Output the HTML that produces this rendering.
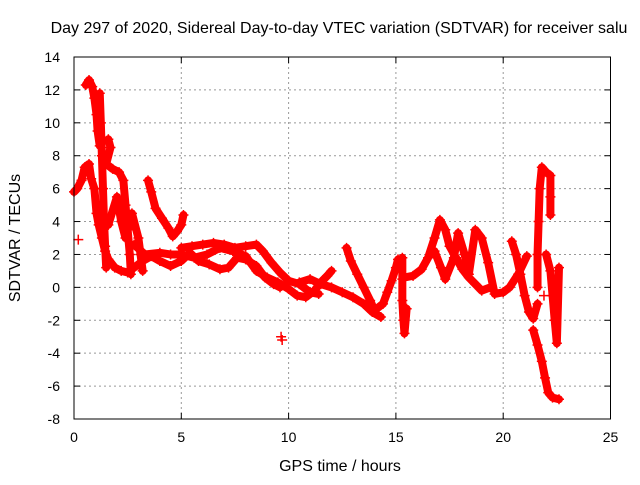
<!DOCTYPE html>
<html><head><meta charset="utf-8"><style>
body{margin:0;background:#fff;}
svg{font-family:"Liberation Sans",sans-serif;}
</style></head><body>
<svg id="chart" width="640" height="480" viewBox="0 0 640 480">
<text x="339" y="33" font-size="16" text-anchor="middle">Day 297 of 2020, Sidereal Day-to-day VTEC variation (SDTVAR) for receiver salu</text>
<text x="340" y="471" font-size="16" text-anchor="middle">GPS time / hours</text>
<text transform="translate(20,238) rotate(-90)" font-size="16" text-anchor="middle">SDTVAR / TECUs</text>
<g id="grid"></g><g id="ticks"></g><g id="marks"></g>
<rect x="74" y="57" width="536.5" height="362" fill="none" stroke="#000" stroke-width="1"/>
</svg>
<script>
const xTicks=[0,5,10,15,20,25];
const yTicks=[-8,-6,-4,-2,0,2,4,6,8,10,12,14];
const trackA=[[0.55,12.3],[0.7,12.6],[0.85,12.2],[0.95,11.5],[1.05,10.5],[1.1,9.5],[1.2,8.6]];
const trackB=[[0.0,5.8],[0.15,6],[0.35,6.5],[0.5,7.3],[0.7,7.5],[0.8,6.6],[0.95,6.0],[1.05,4.5],[1.15,3.8],[1.3,3.0],[1.45,2.2],[1.6,1.7],[1.9,1.2],[2.2,1.0],[2.5,0.9],[2.8,1.2],[3.2,1.6],[3.6,1.9],[4.0,1.6],[4.5,1.3],[5.0,1.6],[5.4,2.1],[5.8,1.6],[6.3,1.4],[6.8,1.1],[7.2,1.2],[7.6,1.8],[8.0,1.7],[8.5,1.3],[8.9,0.6],[9.3,0.2],[9.6,0.0]];
const trackC=[[1.2,11.8],[1.25,10],[1.3,8],[1.35,6],[1.4,4],[1.45,2.5],[1.5,1.2]];
const trackD=[[1.6,9.0],[1.7,8.5],[1.5,7.5],[1.8,7.2],[2.1,7.0],[2.3,6.5],[2.4,5.0],[2.5,3.5],[2.6,2.0],[2.65,0.8]];
const trackE=[[1.2,4.5],[1.6,3.8],[2.0,5.5],[2.2,4.0],[2.4,3.0],[2.7,4.5],[3.0,3.0],[3.1,2.0],[3.2,1.0]];
const trackF=[[3.45,6.5],[3.6,5.8],[3.8,4.8],[4.1,4.2],[4.4,3.6],[4.6,3.1],[4.8,3.4],[5.0,3.8],[5.1,4.4]];
const trackG=[[5.0,2.4],[5.5,2.5],[6.0,2.6],[6.5,2.7],[7.0,2.6],[7.5,2.4],[8.0,2.5],[8.5,2.6],[8.8,2.2],[9.2,1.5],[9.6,0.9],[10.0,0.4],[10.5,0.2],[11.0,-0.3],[11.4,-0.4]];
const trackH=[[2.8,2.6],[3.3,2.0],[4.0,2.1],[4.5,2.0],[5.0,2.0],[5.6,1.8],[6.2,2.0],[6.8,2.4],[7.4,2.2],[8.0,1.9],[8.5,1.0],[9.0,0.6],[9.5,0.3],[10.0,-0.1],[10.4,-0.5],[10.8,-0.6],[11.2,-0.2],[11.5,0.3],[11.8,0.7],[12.0,1.0]];
const trackI=[[10.5,0.3],[11.0,0.5],[11.5,0.2],[12.0,0.0],[12.5,-0.3],[13.0,-0.6],[13.5,-1.0],[13.9,-1.5],[14.3,-1.8]];
const trackJ=[[12.7,2.4],[12.9,1.6],[13.2,0.8],[13.5,0.0],[13.8,-0.8],[14.0,-1.4],[14.4,-1.0],[14.6,-0.3],[14.8,0.4],[15.0,1.2],[15.1,1.7]];
const trackK=[[15.3,1.8],[15.3,0.5],[15.3,-0.8],[15.35,-2.0],[15.4,-2.8],[15.5,-1.3]];
const trackL=[[15.4,0.6],[15.8,0.7],[16.2,1.1],[16.5,1.8],[16.8,3.0],[17.05,4.1],[17.3,3.5],[17.5,2.5],[17.8,1.8],[18.1,1.1],[18.4,0.6],[18.7,0.2],[19.0,-0.2],[19.4,0.0]];
const trackM=[[16.8,2.2],[17.1,1.2],[17.3,0.5],[17.7,1.8],[17.9,3.3],[18.2,2.0],[18.4,0.8],[18.7,3.5],[19.0,3.0],[19.3,1.5],[19.6,-0.4],[20.0,-0.3],[20.3,0.0],[20.7,0.8],[21.1,1.9]];
const trackN=[[20.4,2.8],[20.6,2.0],[20.8,0.8],[21.0,-0.5],[21.2,-1.5],[21.4,-1.9],[21.6,-1.0]];
const trackO=[[21.6,0.0],[21.6,2.0],[21.65,4.0],[21.7,6.0],[21.8,7.3],[22.0,7.0],[22.2,6.8],[22.2,5.5],[22.2,4.4]];
const trackP=[[22.0,2.0],[22.2,1.0],[22.3,-0.5],[22.4,-2.0],[22.5,-3.4],[22.6,1.2]];
const trackQ=[[21.4,-2.6],[21.6,-3.5],[21.8,-4.5],[21.95,-5.5],[22.1,-6.4],[22.3,-6.7],[22.6,-6.8]];
const trackR=[[0.2,2.9],[9.65,-3.0],[9.7,-3.2],[21.9,-0.5],[22.5,-0.2]];
const tracks=[trackA,trackB,trackC,trackD,trackE,trackF,trackG,trackH,trackI,trackJ,trackK,trackL,trackM,trackN,trackO,trackP,trackQ];
const X0=74,X1=610.5,Y0=419,Y1=57;
const sx=t=>X0+(t-0)/25*(X1-X0);
const sy=v=>Y0-(v+8)/22*(Y0-Y1);
const NS='http://www.w3.org/2000/svg';
const g=document.getElementById('grid'),tk=document.getElementById('ticks'),mk=document.getElementById('marks');
function mkEl(tag,attrs,parent){const e=document.createElementNS(NS,tag);for(const k in attrs)e.setAttribute(k,attrs[k]);parent.appendChild(e);return e;}
xTicks.forEach(t=>{
 const x=sx(t);
 if(t>0&&t<25){const l=mkEl('line',{x1:x,x2:x,y1:Y1,y2:Y0,stroke:'#999','stroke-dasharray':'2,3'},g);
 
 }
 mkEl('line',{x1:x,x2:x,y1:Y0,y2:Y0-6,stroke:'#000'},tk);
 mkEl('line',{x1:x,x2:x,y1:Y1,y2:Y1+6,stroke:'#000'},tk);
 const tx=mkEl('text',{x:x,y:Y0+23,'font-size':14,'text-anchor':'middle'},tk);tx.textContent=t;
 
 
});
yTicks.forEach(v=>{
 const y=sy(v);
 if(v>-8&&v<14){const l=mkEl('line',{x1:X0,x2:X1,y1:y,y2:y,stroke:'#999','stroke-dasharray':'2,3'},g);
 
 }
 mkEl('line',{x1:X0,x2:X0+6,y1:y,y2:y,stroke:'#000'},tk);
 mkEl('line',{x1:X1,x2:X1-6,y1:y,y2:y,stroke:'#000'},tk);
 const tx=mkEl('text',{x:X0-14,y:y+5,'font-size':14,'text-anchor':'end'},tk);tx.textContent=v;
 
 
});
function plus(t,v){
 const x=sx(t),y=sy(v);
 const p=mkEl('path',{d:`M${x-5},${y}H${x+5}M${x},${y-5}V${y+5}`,stroke:'#f00','stroke-width':1.5},mk);
 
 
}
tracks.forEach(tr=>{
 const pl=mkEl('polyline',{points:tr.map(p=>sx(p[0])+','+sy(p[1])).join(' '),fill:'none',stroke:'#f00','stroke-width':8,'stroke-linejoin':'round','stroke-linecap':'round'},mk);
 
 
 tr.forEach(p=>plus(p[0],p[1]));
});
trackR.forEach(p=>plus(p[0],p[1]));
</script>
</body></html>
